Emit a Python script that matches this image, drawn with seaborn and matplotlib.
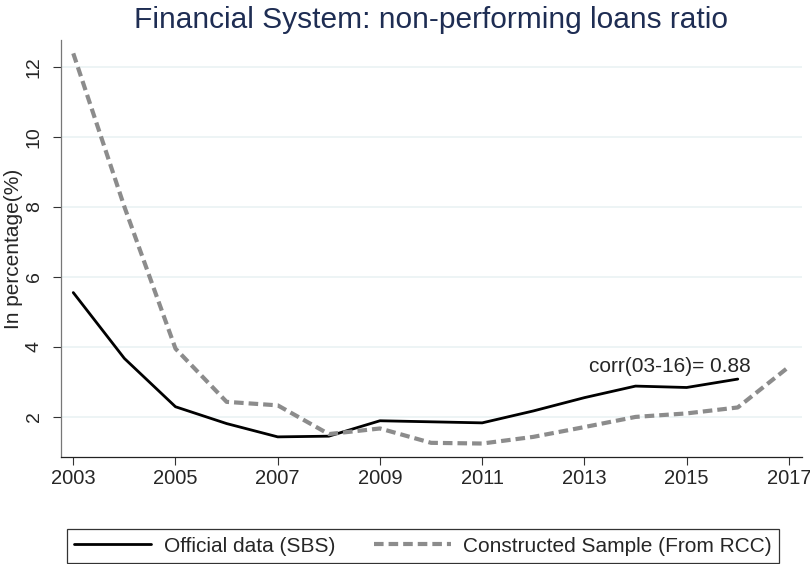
import numpy as np
import pandas as pd
import seaborn as sns
import matplotlib.pyplot as plt

# Data
years = list(range(2003, 2018))
sbs = [5.55, 3.67, 2.29, 1.81, 1.43, 1.45, 1.89, 1.86, 1.83, 2.17, 2.55, 2.88, 2.84, 3.08, np.nan]
rcc = [12.38, 8.0, 3.95, 2.43, 2.33, 1.51, 1.67, 1.26, 1.24, 1.43, 1.71, 2.0, 2.10, 2.27, 3.43]
x_ticks = [2003, 2005, 2007, 2009, 2011, 2013, 2015, 2017]
y_ticks = [2, 4, 6, 8, 10, 12]

df = pd.DataFrame({'year': years, 'sbs': sbs, 'rcc': rcc})

sns.set_style('white')
plt.rcParams['font.family'] = ['Liberation Sans', 'DejaVu Sans']

fig = plt.figure(figsize=(8.1, 5.64), dpi=100)
ax = fig.add_axes([0.0753, 0.190, 0.9144, 0.739])

# light horizontal grid
for y in y_ticks:
    ax.axhline(y, color='#eaf2f3', lw=1.2, zorder=0)

sns.lineplot(data=df, x='year', y='sbs', ax=ax, color='black', lw=2,
             label='Official data (SBS)')
sns.lineplot(data=df, x='year', y='rcc', ax=ax, color='#8c8c8c', lw=3,
             label='Constructed Sample (From RCC)')
ax.lines[-1].set_dashes((2.3, 1.2))

ax.text(2014.67, 3.45, 'corr(03-16)= 0.88', ha='center', va='center', fontsize=15)

ax.set_xlim(2002.76, 2017.25)
ax.set_ylim(0.86, 12.76)
ax.set_xticks(x_ticks)
ax.set_yticks(y_ticks)
ax.set_yticklabels([str(v) for v in y_ticks], rotation=90, va='center')
ax.tick_params(axis='both', length=6, width=0.8, direction='out',
               left=True, bottom=True, color='#333333')
ax.tick_params(axis='x', labelsize=14.5, pad=3)
ax.tick_params(axis='y', labelsize=14, pad=7)
ax.set_xlabel('')
ax.set_ylabel('In percentage(%)', fontsize=15, labelpad=2)

for s in ['top', 'right']:
    ax.spines[s].set_visible(False)
ax.spines['left'].set_color('#777777')
ax.spines['bottom'].set_color('#222222')
ax.spines['left'].set_linewidth(0.9)
ax.spines['bottom'].set_linewidth(0.9)

ax.set_title('Financial System: non-performing loans ratio', fontsize=21.5,
             color='#1e2d53', pad=9)

if ax.legend_:
    ax.legend_.remove()
handles, labels = ax.get_legend_handles_labels()
leg = fig.legend(handles, labels, loc='lower left', bbox_to_anchor=(0.0827, 0.002),
                 ncol=2, fontsize=15, frameon=True, fancybox=False,
                 edgecolor='black', handlelength=3.7, handletextpad=0.6,
                 columnspacing=1.85, borderpad=0.35, borderaxespad=0)
leg.get_frame().set_linewidth(0.9)

fig.savefig('out.png', dpi=100)
